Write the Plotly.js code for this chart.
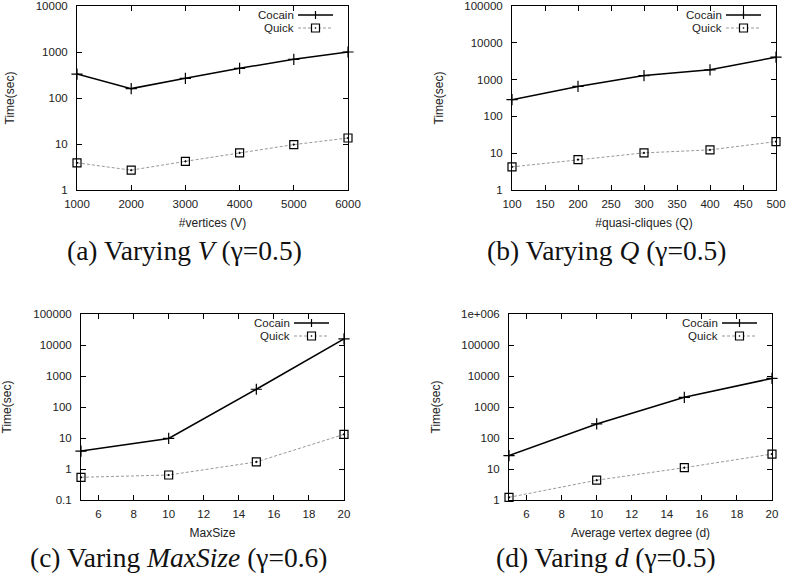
<!DOCTYPE html>
<html>
<head>
<meta charset="utf-8">
<script src="https://cdn.plot.ly/plotly-3.0.1.min.js"></script>
<style>html,body{margin:0;padding:0;background:#fff}#chart{width:790px;height:577px}</style>
</head>
<body>
<div id="chart"></div>
<script>
// ---- data ----
const vertices = [1000, 2000, 3000, 4000, 5000, 6000];
const cocainV = [331, 160, 268, 442, 693, 1000];
const quickV = [3.9, 2.7, 4.2, 6.4, 9.7, 13.5];

const quasiCliques = [100, 200, 300, 400, 500];
const cocainQ = [284, 653, 1290, 1840, 4070];
const quickQ = [4.25, 6.7, 10.2, 12.3, 20.7];

const maxSize = [5, 10, 15, 20];
const cocainMaxSize = [3.8, 9.7, 374, 15700];
const quickMaxSize = [0.54, 0.64, 1.69, 13.1];

const degree = [5, 10, 15, 20];
const cocainD = [27, 284, 2050, 8360];
const quickD = [1.22, 4.35, 11, 30.4];

const seriesNames = ["Cocain", "Quick"];

const xTicksV = [1000, 2000, 3000, 4000, 5000, 6000];
const xTicksQ = [100, 150, 200, 250, 300, 350, 400, 450, 500];
const xTicksSmall = [6, 8, 10, 12, 14, 16, 18, 20];

const yTicksA = [1, 10, 100, 1000, 10000];
const yTextA = ["1", "10", "100", "1000", "10000"];
const yTicksB = [1, 10, 100, 1000, 10000, 100000];
const yTextB = ["1", "10", "100", "1000", "10000", "100000"];
const yTicksC = [0.1, 1, 10, 100, 1000, 10000, 100000];
const yTextC = ["0.1", "1", "10", "100", "1000", "10000", "100000"];
const yTicksD = [1, 10, 100, 1000, 10000, 100000, 1000000];
const yTextD = ["1", "10", "100", "1000", "10000", "100000", "1e+006"];

const xTitles = ["#vertices (V)", "#quasi-cliques (Q)", "MaxSize", "Average vertex degree (d)"];
const captions = [
  "(a) Varying <i>V</i> (γ=0.5)",
  "(b) Varying <i>Q</i> (γ=0.5)",
  "(c) Varing <i>MaxSize</i> (γ=0.6)",
  "(d) Varing <i>d</i> (γ=0.5)"
];

// ---- layout helpers ----
const W = 790, H = 577;
const fx = p => p / W;
const fy = p => 1 - p / H;

// plot boxes [left, top, right, bottom] in px
const boxes = [
  [77, 6, 348, 190],
  [512, 6, 776, 190],
  [81, 314, 344, 500],
  [509, 314, 772, 500]
];
const captionPos = [[184, 250], [607, 250], [179, 557], [606, 557]];
const yTitleStandoff = [18, 18, 21, 17];

const tickFont = {family: "Liberation Sans, Arial, sans-serif", size: 11.5, color: "#222"};
const titleFont = {family: "Liberation Sans, Arial, sans-serif", size: 12, color: "#222"};

function xAxis(i, range, tickvals) {
  const b = boxes[i];
  return {
    domain: [fx(b[0]), fx(b[2])],
    anchor: "y" + (i ? i + 1 : ""),
    range: range, tickvals: tickvals, ticktext: tickvals.map(String),
    showline: true, linecolor: "#000", linewidth: 1, mirror: "ticks",
    ticks: "inside", ticklen: 5, tickcolor: "#000", tickwidth: 1,
    showgrid: false, zeroline: false, tickfont: tickFont,
    ticklabelstandoff: 3, ticklabeloverflow: "allow",
    title: {text: xTitles[i], font: titleFont, standoff: 9},
    automargin: false, fixedrange: true
  };
}
function yAxis(i, range, tickvals, ticktext) {
  const b = boxes[i];
  return {
    type: "log",
    domain: [fy(b[3]), fy(b[1])],
    anchor: "x" + (i ? i + 1 : ""),
    range: range, tickvals: tickvals, ticktext: ticktext,
    showline: true, linecolor: "#000", linewidth: 1, mirror: "ticks",
    ticks: "inside", ticklen: 5, tickcolor: "#000", tickwidth: 1,
    showgrid: false, zeroline: false, tickfont: tickFont,
    ticklabelstandoff: 6, ticklabeloverflow: "allow",
    title: {text: "Time(sec)", font: titleFont, standoff: yTitleStandoff[i]},
    automargin: false, fixedrange: true
  };
}

const panels = [
  [vertices, cocainV, quickV],
  [quasiCliques, cocainQ, quickQ],
  [maxSize, cocainMaxSize, quickMaxSize],
  [degree, cocainD, quickD]
];

const traces = [];
panels.forEach((p, i) => {
  const sfx = i ? String(i + 1) : "";
  traces.push({
    x: p[0], y: p[1], name: seriesNames[0], type: "scatter", mode: "lines+markers",
    xaxis: "x" + sfx, yaxis: "y" + sfx, cliponaxis: false,
    line: {color: "#000", width: 1.5},
    marker: {symbol: "cross-thin-open", size: 8, line: {color: "#000", width: 1.2}},
    showlegend: false
  });
  traces.push({
    x: p[0], y: p[2], name: seriesNames[1], type: "scatter", mode: "lines+markers",
    xaxis: "x" + sfx, yaxis: "y" + sfx, cliponaxis: false,
    line: {color: "#999", width: 1, dash: "3px,2px"},
    marker: {symbol: "square-open-dot", size: 8, color: "#000", line: {color: "#000", width: 1.2}},
    showlegend: false
  });
});

// legend-like key drawn as text + sample shapes
const annotations = [];
const shapes = [];
boxes.forEach((b, i) => {
  const right = b[2], top = b[1];
  const textX = right - 53;
  const x0 = right - 50, x1 = right - 15, xm = (x0 + x1) / 2;
  const ys = [top + 9, top + 22];
  seriesNames.forEach((nm, k) => {
    annotations.push({
      xref: "paper", yref: "paper", x: fx(textX), y: fy(ys[k]),
      xanchor: "right", yanchor: "middle", showarrow: false, text: nm, borderpad: 0,
      font: {family: "Liberation Sans, Arial, sans-serif", size: 11.5, color: "#222"}
    });
  });
  shapes.push({type: "line", xref: "paper", yref: "paper",
    x0: fx(x0), x1: fx(x1), y0: fy(ys[0]), y1: fy(ys[0]), line: {color: "#000", width: 1.5}});
  shapes.push({type: "line", xref: "paper", yref: "paper",
    x0: fx(xm), x1: fx(xm), y0: fy(ys[0] - 4), y1: fy(ys[0] + 4), line: {color: "#000", width: 1.2}});
  shapes.push({type: "line", xref: "paper", yref: "paper",
    x0: fx(x0), x1: fx(x1), y0: fy(ys[1]), y1: fy(ys[1]), line: {color: "#999", width: 1, dash: "3px,2px"}});
  shapes.push({type: "rect", xref: "paper", yref: "paper",
    x0: fx(xm - 4), x1: fx(xm + 4), y0: fy(ys[1] - 4), y1: fy(ys[1] + 4),
    fillcolor: "#fff", line: {color: "#000", width: 1.2}});
  shapes.push({type: "rect", xref: "paper", yref: "paper",
    x0: fx(xm - 0.7), x1: fx(xm + 0.7), y0: fy(ys[1] - 0.7), y1: fy(ys[1] + 0.7),
    fillcolor: "#000", line: {width: 0}});
});
captions.forEach((c, i) => {
  annotations.push({
    xref: "paper", yref: "paper", x: fx(captionPos[i][0]), y: fy(captionPos[i][1]),
    xanchor: "center", yanchor: "middle", showarrow: false, text: c,
    font: {family: "Liberation Serif, Times New Roman, serif", size: 27.5, color: "#111"}
  });
});

const layout = {
  width: W, height: H,
  margin: {l: 0, r: 0, t: 0, b: 0},
  paper_bgcolor: "#fff", plot_bgcolor: "#fff",
  showlegend: false,
  xaxis: xAxis(0, [1000, 6000], xTicksV),
  yaxis: yAxis(0, [0, 4], yTicksA, yTextA),
  xaxis2: xAxis(1, [100, 500], xTicksQ),
  yaxis2: yAxis(1, [0, 5], yTicksB, yTextB),
  xaxis3: xAxis(2, [5, 20], xTicksSmall),
  yaxis3: yAxis(2, [-1, 5], yTicksC, yTextC),
  xaxis4: xAxis(3, [5, 20], xTicksSmall),
  yaxis4: yAxis(3, [0, 6], yTicksD, yTextD),
  annotations: annotations,
  shapes: shapes
};

Plotly.newPlot("chart", traces, layout, {staticPlot: true, displayModeBar: false});
</script>
</body>
</html>
